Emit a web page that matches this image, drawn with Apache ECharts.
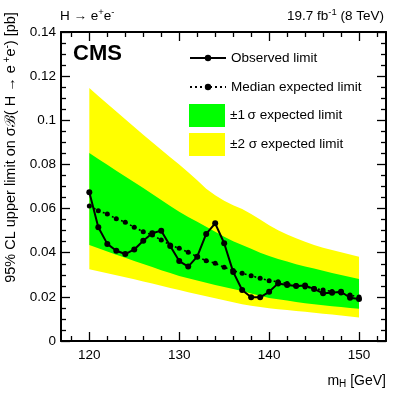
<!DOCTYPE html>
<html>
<head>
<meta charset="utf-8">
<script src="https://cdn.jsdelivr.net/npm/echarts@6/dist/echarts.min.js"></script>
<style>html,body{margin:0;padding:0;background:#fff}#c{width:407px;height:393px}</style>
</head>
<body>
<div id="c"></div>
<script>
// ---- data ----
var masses = [120,121,122,123,124,125,126,127,128,129,130,131,132,133,134,135,136,137,138,139,140,141,142,143,144,145,146,147,148,149,150];
var observed = [0.0674,0.0515,0.0440,0.0409,0.0394,0.0415,0.0454,0.0488,0.0500,0.0430,0.0362,0.0337,0.0382,0.0485,0.0533,0.0443,0.0313,0.0231,0.0198,0.0198,0.0223,0.0261,0.0254,0.0249,0.0251,0.0236,0.0216,0.0219,0.0223,0.0196,0.0190];
var expected = [0.0612,0.0590,0.0575,0.0554,0.0538,0.0515,0.0495,0.0480,0.0458,0.0435,0.0420,0.0402,0.0382,0.0364,0.0352,0.0334,0.0319,0.0307,0.0296,0.0284,0.0273,0.0269,0.0261,0.0251,0.0245,0.0238,0.0231,0.0224,0.0217,0.0208,0.0199];
var plus2 = [0.1146,0.1110,0.1075,0.1040,0.1005,0.0970,0.0935,0.0900,0.0866,0.0833,0.0800,0.0765,0.0728,0.0690,0.0660,0.0635,0.0615,0.0598,0.0575,0.0550,0.0525,0.0502,0.0482,0.0465,0.0450,0.0435,0.0423,0.0412,0.0402,0.0392,0.0382];
var plus1 = [0.0852,0.0825,0.0798,0.0771,0.0745,0.0719,0.0693,0.0666,0.0639,0.0612,0.0586,0.0562,0.0540,0.0518,0.0495,0.0472,0.0452,0.0435,0.0418,0.0400,0.0385,0.0372,0.0360,0.0348,0.0338,0.0328,0.0318,0.0308,0.0299,0.0290,0.0281];
var minus1 = [0.0435,0.0420,0.0405,0.0391,0.0377,0.0363,0.0349,0.0335,0.0321,0.0308,0.0295,0.0284,0.0274,0.0264,0.0254,0.0245,0.0236,0.0226,0.0215,0.0205,0.0195,0.0189,0.0183,0.0177,0.0171,0.0166,0.0162,0.0158,0.0154,0.0150,0.0146];
var minus2 = [0.0325,0.0316,0.0307,0.0298,0.0289,0.0280,0.0270,0.0260,0.0250,0.0240,0.0231,0.0221,0.0212,0.0203,0.0194,0.0185,0.0176,0.0167,0.0160,0.0154,0.0148,0.0144,0.0140,0.0136,0.0132,0.0128,0.0124,0.0120,0.0116,0.0111,0.0107];
var xMajorTicks = [120,130,140,150];
var xMinorTicks = [118,122,124,126,128,132,134,136,138,142,144,146,148,152];
var seriesNames = ['Observed limit','Median expected limit','\u00b11\u2009\u03c3 expected limit','\u00b12 \u03c3 expected limit'];

// ---- chart ----
var XMIN = 116.85, XMAX = 153.0;
var FONT = 'Liberation Sans, Arial, Helvetica, sans-serif';
var chart = echarts.init(document.getElementById('c'));

function pairs(ys){ return masses.map(function(m,i){ return [m, ys[i]]; }); }
function bandRender(hi, lo, color){
  return function(params, api){
    var pts = [];
    for (var i=0;i<masses.length;i++) pts.push(api.coord([masses[i], hi[i]]));
    for (var j=masses.length-1;j>=0;j--) pts.push(api.coord([masses[j], lo[j]]));
    return {type:'polygon', shape:{points:pts}, style:{fill:color, stroke:null}};
  };
}
var axLine = {show:true, lineStyle:{color:'#000', width:2}};
function xAx(pos, ticks, len, labels, lineShow){
  return {
    type:'value', min:XMIN, max:XMAX, position:pos,
    axisLine: lineShow ? axLine : {show:false},
    axisTick:{show:true, inside:true, length:len, customValues:ticks, lineStyle:{color:'#000', width:1.3}},
    axisLabel: labels ? {show:true, customValues:ticks, color:'#000', fontFamily:FONT, fontSize:13.5, margin:7} : {show:false},
    splitLine:{show:false}
  };
}
var xAxes = [xAx('bottom', xMajorTicks, 9, true, true), xAx('bottom', xMinorTicks, 5, false, false),
             xAx('top', xMajorTicks, 9, false, true), xAx('top', xMinorTicks, 5, false, false)];
xAxes[0].name = 'm{sub|H} [GeV]';
xAxes[0].nameLocation = 'end';
xAxes[0].nameGap = 0;
xAxes[0].nameTextStyle = {align:'right', verticalAlign:'top', padding:[32,0,0,0], color:'#000', fontFamily:FONT, fontSize:14,
  rich:{sub:{fontSize:10, fontFamily:FONT, color:'#000', padding:[6,0,0,0]}}};

function yAx(pos, labels){
  var a = {
    type:'value', min:0, max:0.14, interval:0.02, position:pos,
    axisLine: axLine,
    axisTick:{show:true, inside:true, length:9, lineStyle:{color:'#000', width:1.3}},
    minorTick:{show:true, splitNumber:4, length:5, lineStyle:{color:'#000', width:1.3}},
    axisLabel: labels ? {show:true, color:'#000', fontFamily:FONT, fontSize:13.5, margin:5} : {show:false},
    splitLine:{show:false}, minorSplitLine:{show:false}
  };
  return a;
}
var yAxes = [yAx('left', true), yAx('right', false)];
yAxes[0].name = '95% CL upper limit on \u03c3\u212c( H \u2192 e{sup| +}e{sup|-}) [pb]';
yAxes[0].nameLocation = 'middle';
yAxes[0].nameRotate = 90;
yAxes[0].nameGap = 38;
yAxes[0].nameTextStyle = {color:'#000', fontFamily:FONT, fontSize:14.5, padding:[0,0,0,78],
  rich:{sup:{fontSize:10, fontFamily:FONT, color:'#000', padding:[0,0,8,0]}}};

var option = {
  animation:false,
  backgroundColor:'#fff',
  title:[
    {text:'H \u2192 e{sup|+}e{sup|-}', left:55, top:2,
     textStyle:{color:'#000', fontFamily:FONT, fontSize:13.5, fontWeight:'normal',
       rich:{sup:{fontSize:9.5, fontFamily:FONT, color:'#000', padding:[0,0,8,0]}}}},
    {text:'19.7 fb{sup|-1} (8 TeV)', right:18, top:2,
     textStyle:{color:'#000', fontFamily:FONT, fontSize:13.5, fontWeight:'normal',
       rich:{sup:{fontSize:9.5, fontFamily:FONT, color:'#000', padding:[0,0,8,0]}}}},
    {text:'CMS', left:68, top:38, textStyle:{color:'#000', fontFamily:FONT, fontSize:22, fontWeight:'bold'}}
  ],
  grid:{left:61, right:21, top:32, bottom:52, containLabel:false, outerBoundsMode:'none'},
  legend:[
    {orient:'vertical', left:184, top:46, itemWidth:36, itemHeight:8, itemGap:15,
     data:[seriesNames[0], seriesNames[1]],
     textStyle:{color:'#000', fontFamily:FONT, fontSize:13.5}},
    {orient:'vertical', left:184, top:99, itemWidth:36, itemHeight:23, itemGap:6, icon:'rect',
     data:[seriesNames[2], seriesNames[3]],
     textStyle:{color:'#000', fontFamily:FONT, fontSize:13.5}}
  ],
  xAxis: xAxes,
  yAxis: yAxes,
  series:[
    {name:seriesNames[3], type:'custom', xAxisIndex:0, yAxisIndex:0, z:1,
     itemStyle:{color:'#ffff00'}, data:[[masses[0], plus2[0]]],
     renderItem: bandRender(plus2, minus2, '#ffff00')},
    {name:seriesNames[2], type:'custom', xAxisIndex:0, yAxisIndex:0, z:2,
     itemStyle:{color:'#00ff00'}, data:[[masses[0], plus1[0]]],
     renderItem: bandRender(plus1, minus1, '#00ff00')},
    {name:seriesNames[1], type:'line', xAxisIndex:0, yAxisIndex:0, z:3, data:pairs(expected),
     symbol:'circle', symbolSize:5, showSymbol:true,
     itemStyle:{color:'#000'}, lineStyle:{color:'#000', width:1.6, type:[2,3]}},
    {name:seriesNames[0], type:'line', xAxisIndex:0, yAxisIndex:0, z:4, data:pairs(observed),
     symbol:'circle', symbolSize:6, showSymbol:true,
     itemStyle:{color:'#000'}, lineStyle:{color:'#000', width:2}}
  ]
};
chart.setOption(option);
</script>
</body>
</html>
